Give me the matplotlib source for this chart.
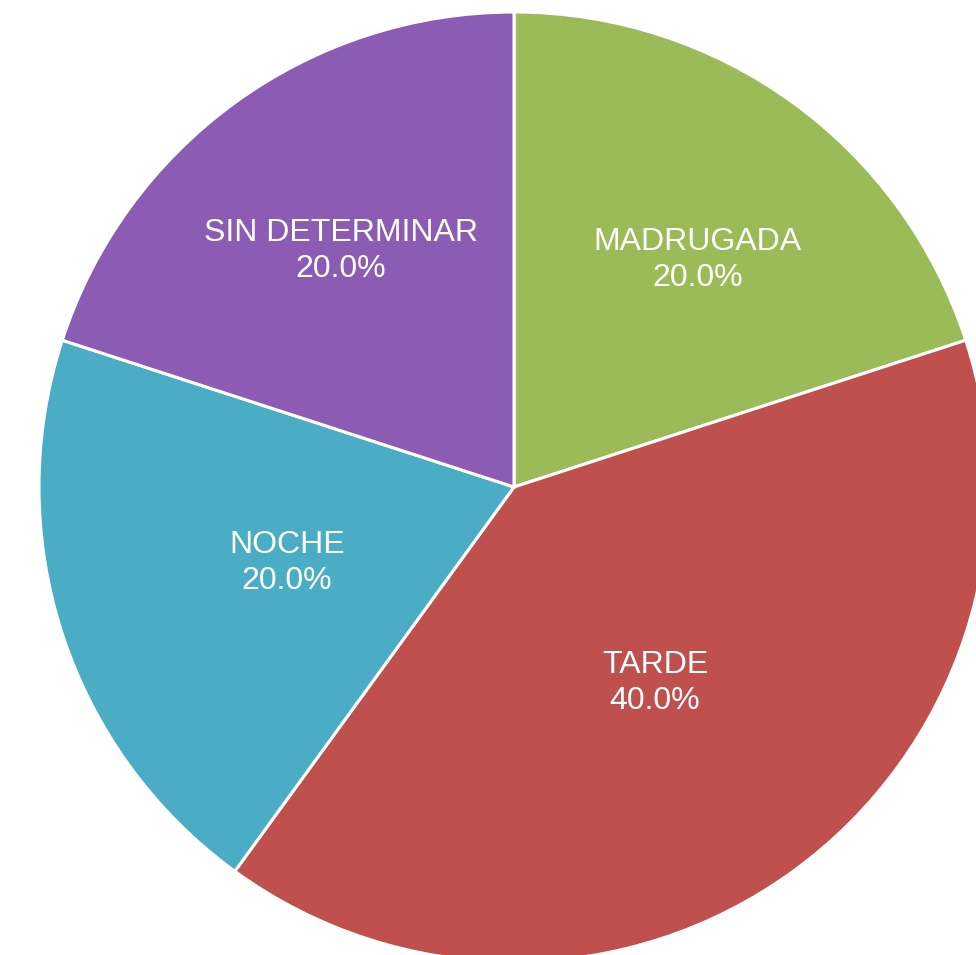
import numpy as np
import matplotlib.pyplot as plt

labels = ["MADRUGADA", "TARDE", "NOCHE", "SIN DETERMINAR"]
values = [20.0, 40.0, 20.0, 20.0]
colors = ["#9BBB59", "#C0504D", "#4BACC6", "#8C5BB3"]

# where each label sits: fraction of radius, then a small nudge in pixels
label_r = [0.615, 0.505, 0.505, 0.62]
nudge = [(12, -7), (0, 0), (1, 0), (0, 0)]

W, H = 976, 955
fig = plt.figure(figsize=(W / 100, H / 100), dpi=100)
ax = fig.add_axes([0, 0, 1, 1])
ax.axis("off")

cx, cy, R = 514, H - 487, 475
wedges, _ = ax.pie(values, colors=colors, startangle=90, counterclock=False,
                   center=(cx, cy), radius=R, labels=None,
                   wedgeprops=dict(edgecolor="white", linewidth=2.2))
ax.set_xlim(0, W)
ax.set_ylim(0, H)
ax.set_aspect("equal")

total = sum(values)
for w, lab, v, f, (nx, ny) in zip(wedges, labels, values, label_r, nudge):
    ang = np.deg2rad((w.theta1 + w.theta2) / 2)
    x = cx + f * R * np.cos(ang) + nx
    y = cy + f * R * np.sin(ang) + ny
    ax.text(x, y + 16, lab, color="white", fontsize=23, family="Liberation Sans",
            ha="center", va="center")
    ax.text(x, y - 20, "%.1f%%" % (100 * v / total), color="white", fontsize=23,
            family="Liberation Sans", ha="center", va="center")

fig.savefig("out.png", dpi=100)
